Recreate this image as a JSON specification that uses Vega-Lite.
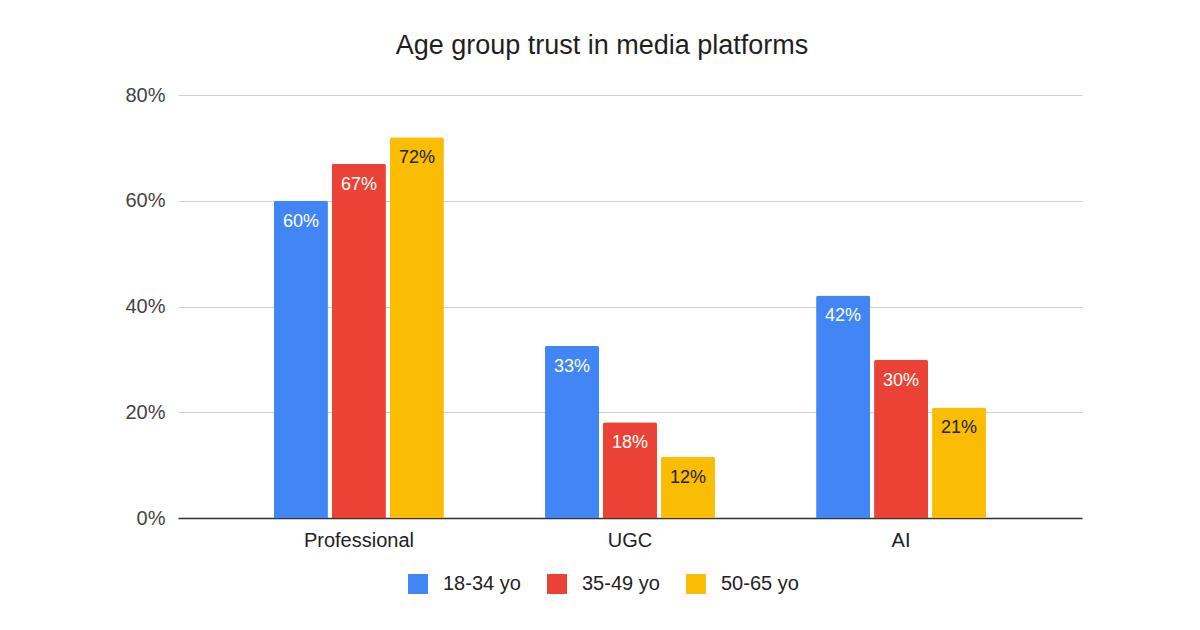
{
  "$schema": "https://vega.github.io/schema/vega-lite/v6.json",
  "width": 904,
  "height": 423,
  "autosize": {"type": "none"},
  "padding": {"left": 178, "top": 95, "right": 118, "bottom": 112},
  "background": "white",
  "config": {
    "font": "Liberation Sans",
    "view": {"stroke": null}
  },
  "title": {
    "text": "Age group trust in media platforms",
    "fontSize": 27,
    "fontWeight": "normal",
    "color": "#1f1f1f",
    "anchor": "middle",
    "dx": -28,
    "offset": 25
  },
  "data": {
    "values": [
      {"platform": "Professional", "age": "18-34 yo", "trust": 0.60},
      {"platform": "Professional", "age": "35-49 yo", "trust": 0.67},
      {"platform": "Professional", "age": "50-65 yo", "trust": 0.72},
      {"platform": "UGC", "age": "18-34 yo", "trust": 0.326},
      {"platform": "UGC", "age": "35-49 yo", "trust": 0.181},
      {"platform": "UGC", "age": "50-65 yo", "trust": 0.116},
      {"platform": "AI", "age": "18-34 yo", "trust": 0.421},
      {"platform": "AI", "age": "35-49 yo", "trust": 0.299},
      {"platform": "AI", "age": "50-65 yo", "trust": 0.209}
    ]
  },
  "encoding": {
    "x": {
      "field": "platform",
      "type": "nominal",
      "sort": ["Professional", "UGC", "AI"],
      "title": null,
      "scale": {"paddingInner": 0.373, "paddingOuter": 0.354},
      "axis": {
        "labelAngle": 0,
        "labelFontSize": 20,
        "labelColor": "#222222",
        "labelPadding": 12,
        "ticks": false,
        "domainColor": "#333333",
        "domainWidth": 1.5
      }
    },
    "xOffset": {
      "field": "age",
      "type": "nominal",
      "scale": {"paddingInner": 0.069, "paddingOuter": 0}
    },
    "y": {
      "field": "trust",
      "type": "quantitative",
      "title": null,
      "scale": {"domain": [0, 0.8]},
      "axis": {
        "values": [0, 0.2, 0.4, 0.6, 0.8],
        "format": ".0%",
        "labelFontSize": 20,
        "labelColor": "#444444",
        "labelPadding": 13,
        "ticks": false,
        "domain": false,
        "gridColor": "#d0d0d0",
        "gridWidth": 1.2
      }
    }
  },
  "layer": [
    {
      "mark": {"type": "bar", "cornerRadiusTopLeft": 2, "cornerRadiusTopRight": 2},
      "encoding": {
        "color": {
          "field": "age",
          "type": "nominal",
          "title": null,
          "scale": {"range": ["#4285F4", "#EA4335", "#FBBC04"]},
          "legend": {
            "orient": "none",
            "direction": "horizontal",
            "legendX": 230,
            "legendY": 479,
            "symbolType": "square",
            "symbolSize": 400,
            "symbolStrokeWidth": 0,
            "labelFontSize": 20,
            "labelColor": "#222222",
            "labelOffset": 15,
            "columnPadding": 26
          }
        }
      }
    },
    {
      "mark": {"type": "text", "baseline": "middle", "dy": 21, "fontSize": 18},
      "encoding": {
        "text": {"field": "trust", "type": "quantitative", "format": ".0%"},
        "color": {
          "condition": {"test": "datum.age === '50-65 yo'", "value": "#222222"},
          "value": "white"
        }
      }
    }
  ]
}
